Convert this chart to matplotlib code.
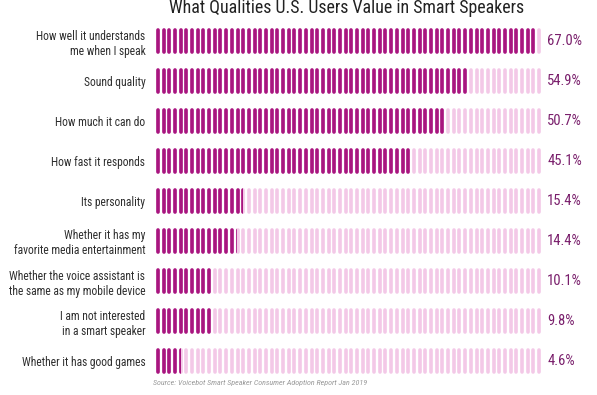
#!/usr/bin/env python3
# Pictogram-style horizontal bars: what US users value in smart speakers
import matplotlib.pyplot as plt
from matplotlib import font_manager
from matplotlib.collections import LineCollection

categories = ['How well it understands\nme when I speak',
              'Sound quality',
              'How much it can do',
              'How fast it responds',
              'Its personality',
              'Whether it has my\nfavorite media entertainment',
              'Whether the voice assistant is\nthe same as my mobile device',
              'I am not interested\nin a smart speaker',
              'Whether it has good games']
values = [67.0, 54.9, 50.7, 45.1, 15.4, 14.4, 10.1, 9.8, 4.6]
value_labels = ['67.0%', '54.9%', '50.7%', '45.1%', '15.4%', '14.4%',
                '10.1%', '9.8%', '4.6%']

n_pills = 68            # one pill per percent, track length
dark = '#a8157f'
light = '#f3c8e7'

names = {f.name for f in font_manager.fontManager.ttflist}
if 'Roboto Condensed' in names:
    cond = dict(family='Roboto Condensed')
    scale = 1.0
else:
    cond = dict(family='DejaVu Sans', stretch='condensed')
    scale = 0.9

fig = plt.figure(figsize=(5.97, 3.95), dpi=100)
ax = fig.add_axes([155 / 597, 1 - 381 / 395, 387 / 597, 360 / 395])

half = 0.265
for i, v in enumerate(values):
    segs = [[(k + 0.5, i - half), (k + 0.5, i + half)] for k in range(n_pills)]
    bg = LineCollection(segs, colors=light, linewidths=2.6, capstyle='round')
    ax.add_collection(bg)
    fg = LineCollection(segs, colors=dark, linewidths=2.6, capstyle='round')
    ax.add_collection(fg)
    # invisible bar of the value's length clips the dark pills
    clip = ax.barh(i, v, height=1.0, left=0, color='none')[0]
    fg.set_clip_path(clip)
    ax.text(n_pills + 0.9, i, value_labels[i], va='center', ha='left',
            fontsize=10.5 * scale, color='#7a1f6c', **cond)

ax.set_xlim(0, n_pills)
ax.set_ylim(len(values) - 0.5, -0.5)
ax.set_yticks(range(len(values)), categories)
for lab in ax.get_yticklabels():
    lab.set_color('#2e2e2e')
    lab.set_fontproperties(font_manager.FontProperties(size=8.3 * scale, **cond))
ax.tick_params(axis='y', length=0, pad=7)
ax.set_xticks([])
for s in ax.spines.values():
    s.set_visible(False)

fig.text(347 / 597, 1 - 8 / 395, 'What Qualities U.S. Users Value in Smart Speakers',
         ha='center', va='center', fontsize=12.9 * scale, color='#222222', **cond)
fig.text(153 / 597, 1 - 383 / 395,
         'Source: Voicebot Smart Speaker Consumer Adoption Report Jan 2019',
         ha='left', va='center', fontsize=5.8 * scale, color='#999999',
         style='italic', **cond)

fig.savefig('out.png', dpi=100)
